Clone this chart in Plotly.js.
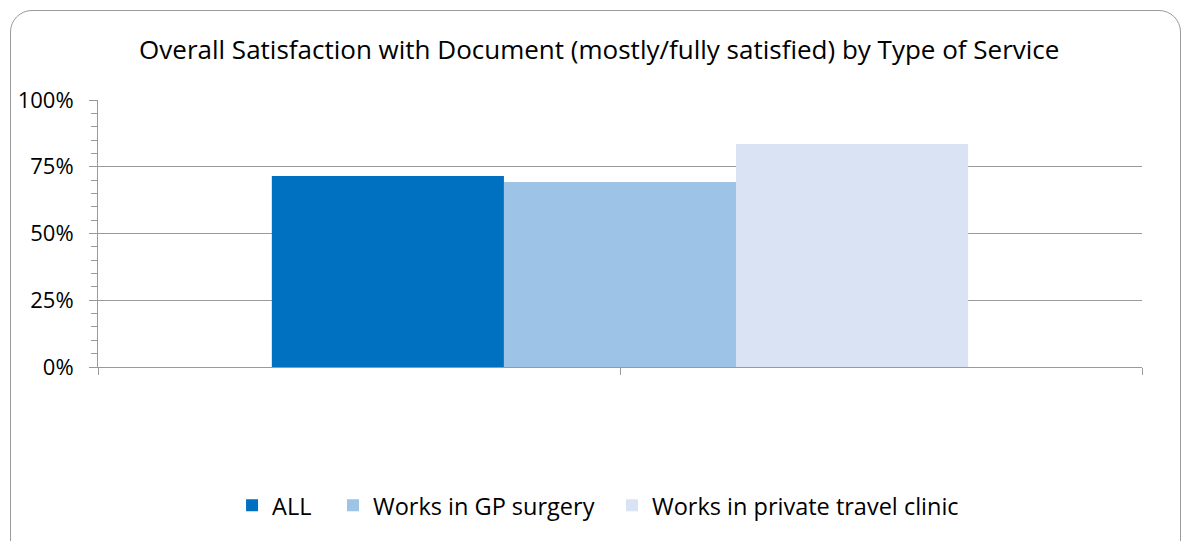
<!DOCTYPE html>
<html>
<head>
<meta charset="utf-8">
<script src="https://cdn.plot.ly/plotly-3.0.1.min.js"></script>
<style>
  html, body { margin: 0; padding: 0; background: #fff; overflow: hidden; }
  #wrap { position: relative; width: 1182px; height: 541px; }
  #chart { position: absolute; left: 0; top: 0; width: 1182px; height: 541px; }
  #frame { position: absolute; left: 10px; top: 10px; width: 1169px; height: 560px;
           border: 1px solid #9a9a9a; border-radius: 22px; pointer-events: none; }
</style>
</head>
<body>
<div id="wrap">
  <div id="chart"></div>
  <div id="frame"></div>
</div>
<script>
const categories = [0];
const seriesNames = ["ALL", "Works in GP surgery", "Works in private travel clinic"];
const seriesValues = [[0.715], [0.693], [0.835]];
const seriesColors = ["#0070C0", "#9DC3E6", "#DAE3F3"];
const yTickVals = [0, 0.25, 0.5, 0.75, 1];
const yTickText = ["0%", "25%", "50%", "75%", "100%"];

const font = "'Open Sans', sans-serif";
const legendIds = ["legend", "legend2", "legend3"];
const legendX = [0.1284, 0.2251, 0.4923];

const traces = seriesNames.map((name, i) => ({
  type: "bar",
  name: name,
  x: categories,
  y: seriesValues[i],
  legend: legendIds[i],
  marker: { color: seriesColors[i], line: { width: 0 } },
  hoverinfo: "skip"
}));

const layout = {
  width: 1182, height: 541,
  margin: { l: 98, r: 40, t: 100, b: 174 },
  paper_bgcolor: "rgba(0,0,0,0)",
  plot_bgcolor: "rgba(0,0,0,0)",
  font: { family: font, color: "#000", size: 20 },
  title: {
    text: "Overall Satisfaction with Document (mostly/fully satisfied) by Type of Service",
    font: { family: font, size: 26, color: "#000" },
    x: 0.507, xanchor: "center", xref: "container",
    y: 1 - 50 / 541, yanchor: "middle", yref: "container"
  },
  barmode: "group",
  bargap: 0.333,
  bargroupgap: 0,
  showlegend: true,
  xaxis: {
    type: "linear",
    range: [-0.5, 0.5],
    tickvals: [-0.5, 0, 0.5],
    ticktext: ["", "", ""],
    ticks: "outside", ticklen: 7, tickcolor: "#9a9a9a", tickwidth: 1,
    showgrid: false, zeroline: false,
    showline: true, linecolor: "#9a9a9a", linewidth: 1,
    fixedrange: true
  },
  yaxis: {
    range: [0, 1],
    tickvals: yTickVals,
    ticktext: yTickText,
    ticks: "outside", ticklen: 8, tickcolor: "#9a9a9a", tickwidth: 1,
    minor: { dtick: 0.05, ticks: "outside", ticklen: 6, tickcolor: "#9a9a9a", showgrid: false },
    showgrid: true, gridcolor: "#9a9a9a", gridwidth: 1,
    zeroline: false,
    showline: true, linecolor: "#9a9a9a", linewidth: 1,
    tickfont: { family: font, size: 22, color: "#000" },
    ticklabelstandoff: 11,
    fixedrange: true
  }
};

legendIds.forEach((id, i) => {
  layout[id] = {
    orientation: "h",
    x: legendX[i], xanchor: "left",
    y: -0.519, yanchor: "middle",
    font: { family: font, size: 23.5, color: "#000" },
    bgcolor: "rgba(0,0,0,0)"
  };
});

Plotly.newPlot("chart", traces, layout, { staticPlot: true, displayModeBar: false });
</script>
</body>
</html>
